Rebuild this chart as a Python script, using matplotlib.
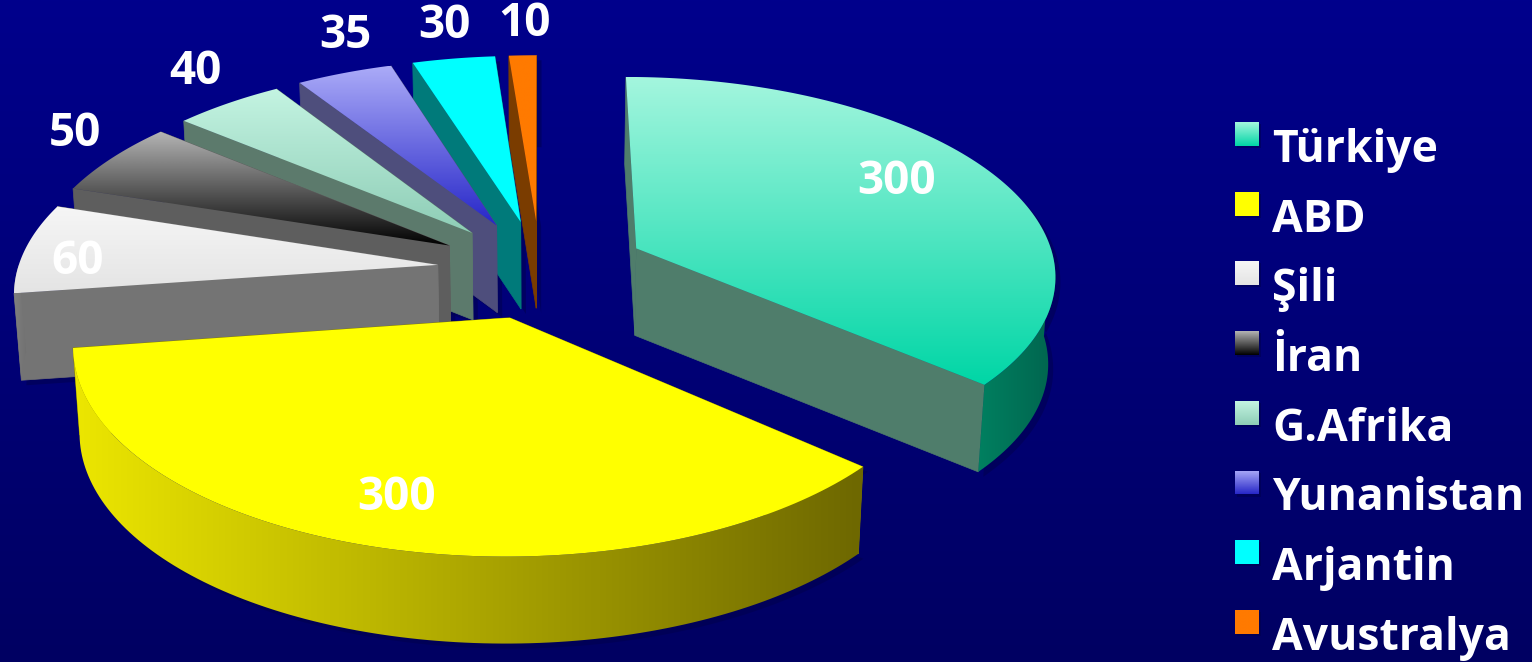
"""Exploded 3D pie on a navy background."""
import numpy as np
import matplotlib
matplotlib.use('Agg')
import matplotlib.pyplot as plt
from matplotlib.colors import LinearSegmentedColormap
from matplotlib.patches import Polygon

# --- Data ---
names = ['Türkiye', 'ABD', 'Şili', 'İran', 'G.Afrika', 'Yunanistan', 'Arjantin', 'Avustralya']
values = [300, 300, 60, 50, 40, 35, 30, 10]

# --- Style ---
top_colors = [('#A4F6DE', '#00D6A6'), ('#FFFF00', '#FFFF00'), ('#F6F6F6', '#E4E4E4'),
              ('#B4B4B4', '#000000'), ('#C4F4E2', '#8ECDB6'), ('#ABABF8', '#2626C8'),
              ('#00FFFF', '#00FFFF'), ('#FF7A00', '#FF7A00')]
face_colors = ['#4F7D6B', '#7E7800', '#747474', '#5E5E5E', '#5C7A6C', '#4E4E7C', '#007A7A', '#7A3C00']
arc_colors = [('#008060', '#00644E'), ('#ECE600', '#6E6800'), ('#808080', '#707070'),
              ('#606060', '#585858'), ('#5C7A6C', '#5C7A6C'), ('#4E4E7C', '#4E4E7C'),
              ('#007A7A', '#007A7A'), ('#7A3C00', '#7A3C00')]
explode = [0.255, 0.25, 0.245, 0.25, 0.25, 0.25, 0.25, 0.25]
label_xy = [(897, 181), (397, 498), (78, 261), (75, 133), (195, 71), (345, 35), (444, 25), (525, 23)]
draw_order = [7, 6, 5, 4, 3, 2, 0, 1]

CX, CY = 540, 269
RX, RY = 420, 197
PERSP = 0.1215
DEPTH = 87
SHRINK = 0.986
FONT = 'Open Sans'


def project(x, y, bottom=False):
    w = 1 / (1 - PERSP * y)
    sx = CX + RX * x * w
    sy = CY + RY * y * w
    if bottom:
        sx = CX + (sx - CX) * SHRINK
        sy = sy + DEPTH
    return np.column_stack([sx, sy])


def gradient_poly(ax, verts, c0, c1, horizontal=False, zorder=2):
    """Fill a polygon with a linear gradient, clipped imshow."""
    x0, y0 = verts.min(axis=0)
    x1, y1 = verts.max(axis=0)
    cmap = LinearSegmentedColormap.from_list('g', [c0, c1])
    ramp = np.linspace(0, 1, 256)
    ramp = ramp.reshape(1, -1) if horizontal else ramp.reshape(-1, 1)
    im = ax.imshow(ramp, cmap=cmap, extent=(x0, x1, y1, y0), aspect='auto',
                   interpolation='bilinear', zorder=zorder)
    clip = Polygon(verts, closed=True, transform=ax.transData, fc='none', ec='none')
    ax.add_patch(clip)
    im.set_clip_path(clip)


fig = plt.figure(figsize=(15.32, 6.62), dpi=100)
ax = fig.add_axes([0, 0, 1, 1])

# background
gradient_poly(ax, np.array([[0, 0], [1532, 0], [1532, 662], [0, 662]], dtype=float),
              '#00008C', '#000062', zorder=0)

# --- Wedges ---
fractions = np.array(values) / np.sum(values)
edges = np.concatenate([[0], np.cumsum(fractions)]) * 2 * np.pi

z = 2
for i in draw_order:
    a0, a1 = edges[i], edges[i + 1]
    mid = (a0 + a1) / 2
    ox, oy = explode[i] * np.sin(mid), -explode[i] * np.cos(mid)
    th = np.linspace(a0, a1, 120)
    arc_x, arc_y = np.sin(th) + ox, -np.cos(th) + oy

    top_arc = project(arc_x, arc_y)
    bot_arc = project(arc_x, arc_y, bottom=True)
    apex_top = project(np.array([ox]), np.array([oy]))
    apex_bot = project(np.array([ox]), np.array([oy]), bottom=True)

    # soft shadow, kept under every slab
    outline = np.vstack([apex_top, top_arc, bot_arc[::-1], apex_bot])
    ax.add_patch(Polygon(outline + [5, 5], closed=True, fc='#00004C', ec='none', alpha=0.5, zorder=1))

    # cut faces
    for k in (0, -1):
        face = np.vstack([apex_top, top_arc[k:][:1], bot_arc[k:][:1], apex_bot])
        ax.add_patch(Polygon(face, closed=True, fc=face_colors[i], ec=face_colors[i], lw=0.5, zorder=z))
        z += 1

    # outer wall, front half only
    front = -np.cos(th) > 0
    if front.sum() > 1:
        wall = np.vstack([top_arc[front], bot_arc[front][::-1]])
        gradient_poly(ax, wall, arc_colors[i][0], arc_colors[i][1], horizontal=True, zorder=z)
    z += 1

    # top
    top = np.vstack([apex_top, top_arc])
    gradient_poly(ax, top, top_colors[i][0], top_colors[i][1], zorder=z)
    z += 1

# --- Value labels ---
for v, (x, y) in zip(values, label_xy):
    ax.text(x, y, str(v), color='white', fontsize=33, fontweight='bold', family=FONT,
            ha='center', va='center', zorder=z)

# --- Legend ---
for i, name in enumerate(names):
    yc = 134 + 69.7 * i
    box = np.array([[1235, yc - 12], [1259, yc - 12], [1259, yc + 12], [1235, yc + 12]], dtype=float)
    ax.add_patch(Polygon(box + [2, 2], closed=True, fc='#00004C', ec='none', alpha=0.5, zorder=z))
    gradient_poly(ax, box, top_colors[i][0], top_colors[i][1], zorder=z + 1)
    ax.text(1272, yc + 28, name, color='white', fontsize=32, fontweight='bold', family=FONT,
            ha='left', va='baseline', zorder=z + 2)

ax.set_xlim(0, 1532)
ax.set_ylim(662, 0)
ax.axis('off')

plt.savefig('out.png', dpi=100)
